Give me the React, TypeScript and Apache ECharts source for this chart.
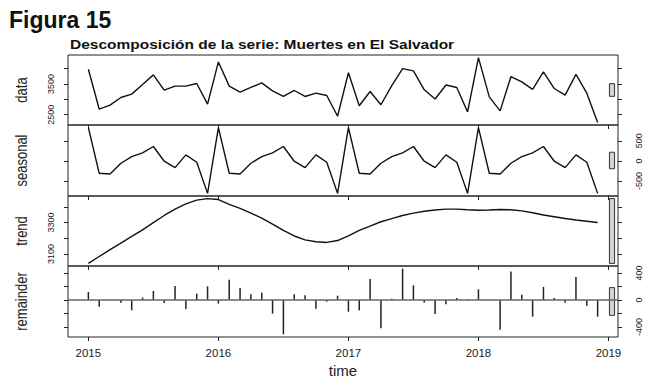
import React, { useEffect, useRef } from "react";
import * as echarts from "echarts";

// ---- data ----
const startYear = 2015;
const yearTicks = [2015, 2016, 2017, 2018, 2019];
const panelNames = ["data", "seasonal", "trend", "remainder"];

const dataValues = [
  3980, 2685, 2814, 3061, 3170, 3482, 3796, 3300, 3430, 3430, 3514, 2846,
  4217, 3430, 3235, 3386, 3537, 3277, 3100, 3288, 3094, 3202, 3126, 2450,
  3865, 2792, 3255, 2825, 3445, 4000, 3925, 3310, 3010, 3465, 3386, 2590,
  4358, 3080, 2625, 3741, 3570, 3325, 3893, 3352, 3135, 3810, 3200, 2250,
];

const seasonalValues = [
  828, -308, -325, -58, 108, 200, 358, -8, -167, 150, -33, -808,
  828, -308, -325, -58, 108, 200, 358, -8, -167, 150, -33, -808,
  828, -308, -325, -58, 108, 200, 358, -8, -167, 150, -33, -808,
  828, -308, -325, -58, 108, 200, 358, -8, -167, 150, -33, -808,
];

const trendValues = [
  3041, 3085, 3128, 3170, 3212, 3254, 3300, 3345, 3385, 3418, 3442, 3452,
  3446, 3415, 3390, 3360, 3328, 3290, 3250, 3215, 3190, 3178, 3174, 3186,
  3215, 3250, 3278, 3305, 3325, 3345, 3360, 3372, 3380, 3385, 3385, 3381,
  3378, 3380, 3383, 3381, 3374, 3362, 3348, 3337, 3326, 3316, 3308, 3300,
];

const remainderValues = [
  118, -99, 5, -40, -153, 35, 133, -44, 207, -133, 94, 202,
  -54, 301, 178, 84, 109, -202, -509, 84, 69, -128, -25, 64,
  -173, -153, 311, -420, 20, 464, 217, -40, -207, -64, 30, 10,
  158, 5, -440, 420, 79, -247, 193, 30, -40, 341, -84, -247,
];

const dataTicks = [2500, 3000, 3500, 4000];
const dataTickLabels = [2500, 3500];
const seasonalTicks = [-500, 0, 500];
const seasonalTickLabels = [-500, 0, 500];
const trendTicks = [3100, 3200, 3300, 3400];
const trendTickLabels = [3100, 3300];
const remainderTicks = [-400, -200, 0, 200, 400];
const remainderTickLabels = [-400, 0, 400];

const FONT = "'Liberation Sans', Arial, sans-serif";
const plain = (v: number) => String(Math.round(v));

export default function App() {
  const ref = useRef<HTMLDivElement>(null);

  useEffect(() => {
    document.body.style.margin = "0";
    if (!ref.current) return;
    const chart = echarts.init(ref.current, null, { renderer: "svg" });

    const times = dataValues.map((_, i) => startYear + i / 12);
    const t0 = times[0];
    const t1 = times[times.length - 1];
    const xPad = 0.04 * (t1 - t0);
    const xMin = t0 - xPad;
    const xMax = t1 + xPad;

    const panels = [
      { values: dataValues, ticks: dataTicks, labels: dataTickLabels },
      { values: seasonalValues, ticks: seasonalTicks, labels: seasonalTickLabels },
      { values: trendValues, ticks: trendTicks, labels: trendTickLabels },
      { values: remainderValues, ticks: remainderTicks, labels: remainderTickLabels },
    ];
    const ranges = panels.map((p) => [Math.min(...p.values), Math.max(...p.values)]);
    const mx = Math.min(...ranges.map((r) => r[1] - r[0]));

    const tops = [55, 125, 196, 266];
    const heights = [70, 71, 70, 71];
    const plotLeft = 68;
    const plotWidth = 550;

    const grid = panels.map((_, k) => ({
      left: plotLeft,
      width: plotWidth,
      top: tops[k],
      height: heights[k],
      show: true,
      borderColor: "#222",
      borderWidth: 1,
      backgroundColor: "transparent",
    }));

    const xAxis = panels.map((_, k) => ({
      type: "value",
      gridIndex: k,
      position: "bottom",
      min: xMin,
      max: xMax,
      axisLine: { show: false, onZero: false },
      splitLine: { show: false },
      axisTick: {
        show: true,
        length: 4,
        customValues: yearTicks,
        lineStyle: { color: "#222", width: 1 },
      },
      axisLabel: {
        show: k === 3,
        customValues: yearTicks,
        formatter: plain,
        margin: 10,
        fontSize: 11.5,
        color: "#222",
        fontFamily: FONT,
      },
      name: k === 3 ? "time" : "",
      nameLocation: "middle",
      nameGap: 26,
      nameTextStyle: { fontSize: 15, color: "#222", fontFamily: FONT },
    }));

    const yAxis: any[] = [];
    panels.forEach((p, k) => {
      const r = ranges[k];
      const pad = 0.04 * (r[1] - r[0]);
      const common = {
        type: "value",
        gridIndex: k,
        min: r[0] - pad,
        max: r[1] + pad,
        axisLine: { show: false, onZero: false },
        splitLine: { show: false },
        axisTick: {
          show: true,
          length: 4,
          customValues: p.ticks,
          lineStyle: { color: "#222", width: 1 },
        },
      };
      yAxis.push({
        ...common,
        position: "left",
        axisLabel: {
          show: k % 2 === 0,
          customValues: p.labels,
          formatter: plain,
          rotate: 90,
          margin: 13,
          fontSize: 9,
          color: "#222",
          fontFamily: FONT,
        },
      });
      yAxis.push({
        ...common,
        position: "right",
        axisLabel: {
          show: k % 2 === 1,
          customValues: p.labels,
          formatter: plain,
          rotate: 90,
          margin: 16,
          fontSize: 9,
          color: "#222",
          fontFamily: FONT,
        },
      });
    });

    const lineSeries = [dataValues, seasonalValues, trendValues].map((vals, k) => ({
      type: "line",
      xAxisIndex: k,
      yAxisIndex: 2 * k,
      data: vals.map((v, i) => [times[i], v]),
      showSymbol: false,
      symbol: "none",
      lineStyle: { color: "#111", width: 1.4 },
      silent: true,
    }));

    const barSeries = {
      type: "bar",
      xAxisIndex: 3,
      yAxisIndex: 6,
      data: remainderValues.map((v, i) => [times[i], v]),
      barWidth: 1.5,
      itemStyle: { color: "#222" },
      silent: true,
      markLine: {
        silent: true,
        symbol: ["none", "none"],
        label: { show: false },
        lineStyle: { color: "#666", width: 1.5, type: "solid" },
        data: [{ yAxis: 0 }],
      },
    };

    const dx = (xMax - xMin) / 64;
    const rangeBarSeries = panels.map((_, k) => {
      const r = ranges[k];
      const cs = (r[0] + r[1]) / 2;
      return {
        type: "custom",
        xAxisIndex: k,
        yAxisIndex: 2 * k,
        silent: true,
        encode: { x: [0, 1], y: [2, 3] },
        data: [[xMax - dx, xMax - 0.4 * dx, cs - mx / 2, cs + mx / 2]],
        renderItem: (params: any, api: any) => {
          const p0 = api.coord([api.value(0), api.value(3)]);
          const p1 = api.coord([api.value(1), api.value(2)]);
          return {
            type: "rect",
            shape: { x: p0[0], y: p0[1], width: p1[0] - p0[0], height: p1[1] - p0[1] },
            style: { fill: "#d3d3d3", stroke: "#333", lineWidth: 1 },
          };
        },
      };
    });

    const graphic: any[] = [
      {
        type: "text",
        x: 9,
        y: 20,
        style: {
          text: "Figura 15",
          fontSize: 23,
          fontWeight: "bold",
          fontFamily: FONT,
          fill: "#111",
          align: "left",
          verticalAlign: "middle",
        },
      },
      {
        type: "text",
        x: 70,
        y: 45,
        scaleX: 1.24,
        style: {
          text: "Descomposición de la serie: Muertes en El Salvador",
          fontSize: 12.5,
          fontWeight: "bold",
          fontFamily: FONT,
          fill: "#111",
          align: "left",
          verticalAlign: "middle",
        },
      },
    ];
    panelNames.forEach((name, k) => {
      graphic.push({
        type: "text",
        x: 22,
        y: tops[k] + heights[k] / 2,
        rotation: Math.PI / 2,
        scaleY: 1.2,
        style: {
          text: name,
          fontSize: 13,
          fontFamily: FONT,
          fill: "#222",
          align: "center",
          verticalAlign: "middle",
        },
      });
    });

    chart.setOption({
      animation: false,
      backgroundColor: "#fff",
      grid,
      xAxis,
      yAxis,
      series: [...lineSeries, barSeries, ...rangeBarSeries],
      graphic,
    });

    return () => chart.dispose();
  }, []);

  return <div ref={ref} style={{ width: 666, height: 384 }} />;
}
